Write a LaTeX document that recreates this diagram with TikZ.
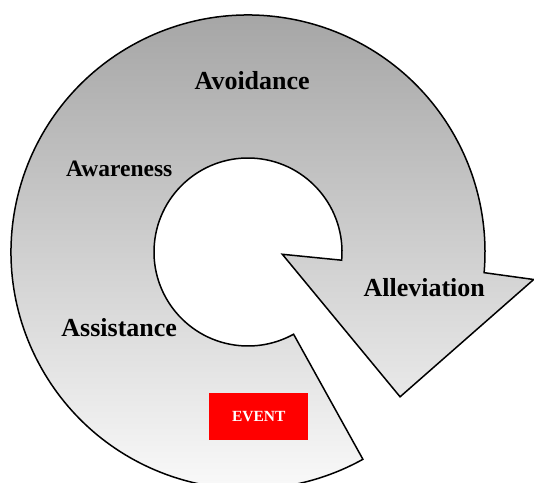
\documentclass[tikz,border=0pt]{standalone}
\usepackage{fontspec}
\setmainfont{Liberation Serif}
\usetikzlibrary{calc}
\definecolor{ringtop}{HTML}{A0A0A0}
\definecolor{ringmid}{HTML}{D4D4D4}
\definecolor{eventred}{HTML}{FF0000}
\tikzset{
  ring/.style={line width=1.5pt,top color=ringtop,middle color=ringmid,bottom color=white},
  lbl/.style={font=\bfseries\fontsize{26}{30}\selectfont,anchor=base,inner sep=0pt},
  evbox/.style={fill=eventred,text=white,font=\bfseries\fontsize{15.5}{18}\selectfont,minimum width=99pt,minimum height=47pt,inner sep=0pt}
}
\begin{document}
\begin{tikzpicture}[x=1pt,y=1pt]
\useasboundingbox (0,0) rectangle (534,482);
\coordinate (c) at (248,230);
% ring that ends in the arrow head
\draw[ring]
  ($(c)+(-61:237)$) arc[start angle=-61,end angle=-365,radius=237]
  -- ($(c)+(-5.5:287)$) -- ($(c)+(-43.6:210)$) -- ($(c)+(-3.8:34.4)$) -- ($(c)+(-5:94)$)
  arc[start angle=-5,end angle=299,radius=94] -- cycle;
\node[lbl] (avoid) at (252.2,392.7) {Avoidance};
\node[lbl,font=\bfseries\fontsize{23.5}{28}\selectfont] (aware) at (119.2,305.3) {Awareness};
\node[lbl] (assist) at (119.2,145.7) {Assistance};
\node[lbl] (allev) at (424.2,186) {Alleviation};
\node[evbox] (event) at (258.8,65.3) {EVENT};
\end{tikzpicture}
\end{document}
